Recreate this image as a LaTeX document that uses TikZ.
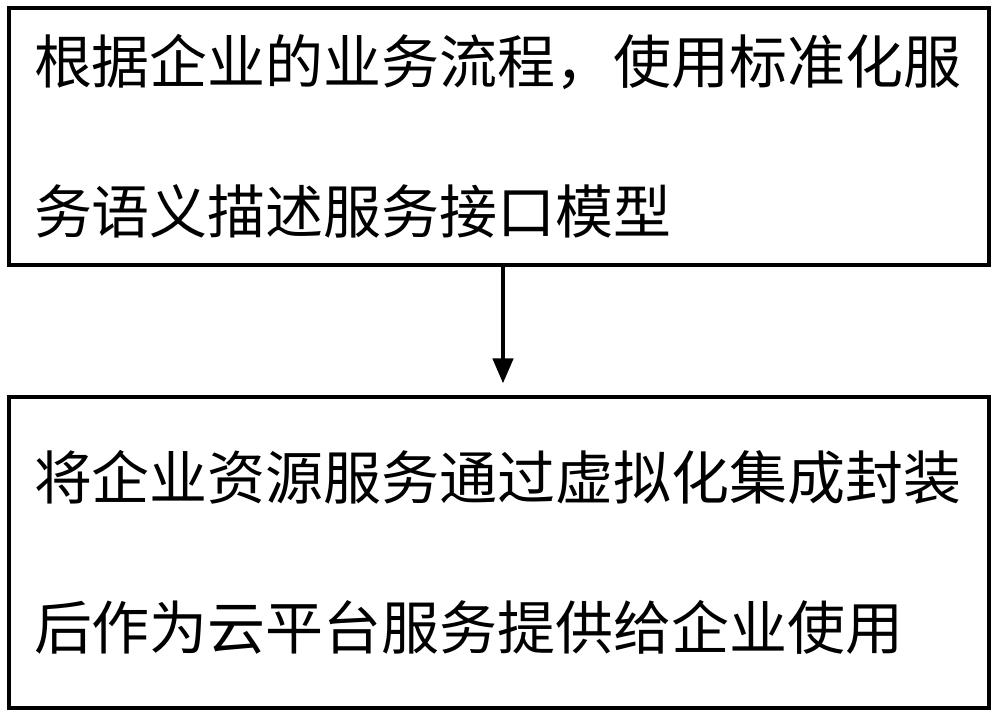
\documentclass[tikz,border=0pt]{standalone}
\usepackage{fontspec}
\newfontfamily\cjk{Noto Sans CJK SC}
\usetikzlibrary{positioning, arrows.meta}
\tikzset{
    stepbox/.style={rectangle, draw, line width=1.8pt, text width=18.6cm, inner xsep=0.5cm,
        align=left, font=\cjk\fontsize{33}{68}\selectfont,
        execute at begin node=\vspace*{0.6cm}},
}
\begin{document}
\begin{tikzpicture}
            \useasboundingbox (0,0) rectangle (20,-14.36);
            % boxes
            \node[stepbox, minimum height=5.14cm] (model) at (9.98,-2.73)
                {根据企业的业务流程，使用标准化服\\务语义描述服务接口模型};
            \node[stepbox, minimum height=6.22cm] (cloud) at (9.98,-11.05)
                {将企业资源服务通过虚拟化集成封装\\后作为云平台服务提供给企业使用};
            % arrow
            \coordinate (a) at ([xshift=0.08cm]model.south);
            \draw[-{Triangle[length=0.5cm, width=0.4cm]}, line width=2.6pt] (a) -- ([yshift=0.24cm]a |- cloud.north);
\end{tikzpicture}
\end{document}
